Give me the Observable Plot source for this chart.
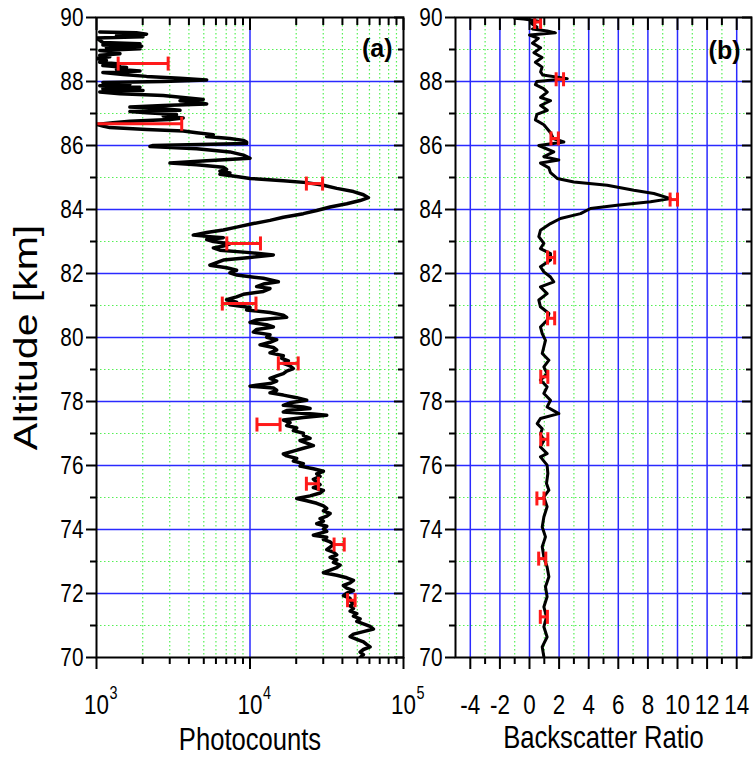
<!DOCTYPE html>
<html><head><meta charset="utf-8">
<script src="https://cdn.jsdelivr.net/npm/d3@7"></script>
<script src="https://cdn.jsdelivr.net/npm/@observablehq/plot@0.6"></script>
<style>
body{margin:0;background:#fff;}
#wrap{position:relative;width:753px;height:759px;overflow:hidden;background:#fff;}
#wrap svg{position:absolute;top:0;}
</style></head><body><div id="wrap"></div>
<script>
// ---------- Panel (a): photocount profile ----------
const altA = [89.55,89.52,89.48,89.44,89.40,89.36,89.22,89.18,89.14,89.10,89.06,89.02,88.97,88.92,88.87,88.82,88.77,88.72,88.66,88.60,88.55,88.50,88.44,88.38,88.33,88.28,88.22,88.16,88.10,88.05,88.00,87.97,87.92,87.87,87.82,87.77,87.72,87.67,87.62,87.56,87.50,87.44,87.40,87.35,87.30,87.25,87.20,87.15,87.10,87.06,87.02,86.97,86.92,86.86,86.81,86.76,86.71,86.66,86.61,86.56,86.50,86.45,86.40,86.34,86.28,86.22,86.16,86.11,86.06,86.00,85.97,85.90,85.80,85.70,85.60,85.52,85.45,85.40,85.32,85.25,85.20,85.14,85.10,85.03,84.97,84.90,84.84,84.76,84.66,84.56,84.46,84.37,84.28,84.18,84.08,83.97,83.87,83.76,83.66,83.56,83.45,83.36,83.28,83.20,83.16,83.12,83.06,83.00,82.93,82.86,82.80,82.73,82.66,82.58,82.50,82.42,82.34,82.26,82.18,82.10,82.02,
81.95,81.85,81.74,81.67,81.59,81.53,81.44,81.35,81.27,81.18,81.10,81.02,80.94,80.86,80.78,80.70,80.63,80.55,80.47,80.40,80.33,80.25,80.17,80.09,80.01,79.93,79.85,79.77,79.69,79.61,79.52,79.43,79.35,79.27,79.19,79.11,79.03,78.95,78.87,78.80,78.72,78.64,78.56,78.48,78.42,78.35,78.27,78.20,78.12,78.04,77.96,
77.88,77.83,77.78,77.72,77.67,77.61,77.57,77.50,77.42,77.34,77.25,77.17,77.09,77.01,76.94,76.85,76.78,76.70,76.62,76.54,76.45,76.36,76.30,76.22,76.14,76.06,75.98,75.90,75.82,75.74,75.66,75.57,75.48,75.40,75.31,75.22,75.14,75.05,74.97,74.90,74.82,74.74,74.66,74.58,74.50,74.42,74.34,74.26,74.18,74.10,74.02,73.94,
73.82,73.76,73.69,73.61,73.53,73.45,73.37,73.29,73.21,73.13,73.05,72.97,72.89,72.81,72.73,72.65,72.57,72.49,72.41,72.33,72.25,72.17,72.09,72.01,71.93,71.85,71.77,71.69,71.61,71.53,71.45,71.37,71.29,71.21,71.13,71.05,70.97,70.89,70.81,70.73,70.65,70.57,70.49,70.41,70.33,70.25,70.17,70.09,70.00];
const countsA = [1050,1820,2120,1350,2010,1000,1100,1920,1100,1970,1160,1920,1050,1350,1420,1050,1220,1000,1160,1050,1420,1100,1570,1350,1920,1100,1490,2120,3500,5220,2720,1100,1650,1050,1920,1100,2010,1050,1420,2720,3670,4960,3500,4490,5220,2720,1650,2720,3500,1650,2120,3320,2720,3670,3010,1650,1280,1000,1100,1220,2120,3670,4490,5770,5220,7400,9050,9510,9500,2340,2230,4490,7400,9050,10000,5220,3010,4490,6700,7040,6370,7400,6370,8180,10000,16490,23410,30080,36750,47200,54840,59100,52160,42700,33250,27210,22270,16490,13500,10510,8180,6700,5220,4270,5220,6700,5220,5770,7400,6700,5770,6370,9510,14200,10000,6700,6060,5480,7040,8180,7400,
8180,12220,15300,12220,11050,13500,12220,9050,8180,7040,8180,7400,10000,9510,13500,16490,17340,11050,10000,12840,14200,11050,10510,13500,12840,14920,13500,11620,14200,14920,13500,16490,16090,17780,16490,18230,19170,17340,16490,14920,13500,14920,13500,10000,14200,14920,13500,16490,20150,23410,18230,
16490,22270,24620,17340,16490,25880,31620,22270,16490,18230,17340,20150,19170,22270,22270,24620,21180,23410,25880,22270,19170,16490,17340,20150,19170,22270,21180,25880,30080,27210,28610,25880,27210,28610,25880,30080,28610,24620,20150,23410,27210,30080,31620,30080,33250,31620,28610,30080,27210,31620,30080,31620,
25880,31620,30080,33250,34950,33250,31620,34950,36750,33250,36750,34950,38640,36750,33250,30080,36750,42700,47200,44890,40620,42700,47200,42700,40620,44890,44890,47200,44890,47200,44890,49620,47200,52160,49620,54840,60610,63720,54840,47200,44890,49620,54840,57500,60610,54840,52160,54840,52160];
const errAltA = [88.56,86.68,84.81,82.94,81.06,79.19,77.28,75.43,73.53,71.79];
const errLoA  = [1384,900,23300,7060,6600,15300,11100,23300,35300,43200];
const errHiA  = [2930,3590,29700,11700,10940,20600,15700,27900,41100,48400];

// ---------- Panel (b): backscatter ratio ----------
const altB = [89.98,89.95,89.92,89.88,89.83,89.76,89.70,89.64,89.58,89.52,89.45,89.35,89.20,89.05,88.90,88.75,88.60,88.45,88.30,88.20,88.09,88.00,87.90,87.78,87.67,87.50,87.40,87.25,87.10,86.97,86.80,86.65,86.40,86.22,86.11,86.00,85.80,85.65,85.55,85.45,85.30,85.15,84.97,84.86,84.76,84.60,84.50,84.34,84.24,84.13,84.03,83.87,83.72,83.56,83.35,83.15,82.94,82.78,82.62,
82.42,82.21,82.05,81.89,81.74,81.58,81.37,81.17,80.96,80.75,80.54,80.33,80.12,79.91,79.71,79.50,79.29,79.08,78.87,78.67,78.46,78.25,78.04,77.83,77.62,77.47,77.31,77.15,76.98,76.79,76.58,76.37,76.27,76.01,75.75,75.44,75.23,75.02,74.71,74.39,74.08,73.77,73.46,73.14,72.83,72.52,72.21,71.90,71.58,71.27,70.96,70.64,70.33,70.02];
const ratioB = [-1.0,-0.4,0.1,0.6,0.1,0.3,0.5,0.2,1.2,1.75,0.0,0.6,0.2,0.75,0.3,0.85,0.4,0.85,0.75,0.9,2.55,0.5,0.4,0.95,1.2,0.75,1.42,0.75,1.2,0.5,0.4,0.97,1.42,1.6,2.32,0.63,1.64,0.97,1.98,0.74,1.31,1.42,1.87,3.0,5.25,7.05,8.4,9.53,8.18,5.92,4.12,3.45,2.09,1.42,0.74,0.63,0.97,0.74,1.42,
1.42,0.74,0.97,1.42,1.64,0.74,1.19,0.63,0.74,1.31,1.19,0.74,0.86,1.08,0.97,0.86,1.31,0.97,1.19,0.74,1.19,0.97,1.42,1.19,1.98,0.74,0.52,0.86,0.74,0.97,0.74,1.19,0.74,1.19,1.24,1.15,1.31,0.97,1.19,0.97,0.86,1.08,0.86,0.97,1.19,1.31,1.08,1.19,0.97,1.15,0.97,1.19,0.86,0.97];
const errAltB = [89.86,88.07,86.22,84.31,82.50,80.60,78.77,76.82,74.97,73.09,71.27];
const errLoB  = [0.35,1.80,1.45,9.50,1.22,1.22,0.76,0.76,0.50,0.62,0.73];
const errHiB  = [0.75,2.30,1.95,10.00,1.70,1.70,1.24,1.24,0.98,1.10,1.21];

// ---------- axes / grid values and labels ----------
const altTicks  = [70,72,74,76,78,80,82,84,86,88,90];
const altLabels = ["70","72","74","76","78","80","82","84","86","88","90"];
const altMinor  = [71,73,75,77,79,81,83,85,87,89];
const altBlue   = [72,74,76,78,80,82,84,86,88];
const xMajorA   = [1000,10000,100000];
const xBaseA    = ["10","10","10"];
const xExpA     = ["3","4","5"];
const xMinorA   = [2000,3000,4000,5000,6000,7000,8000,9000,20000,30000,40000,50000,60000,70000,80000,90000];
const xTicksB   = [-4,-2,0,2,4,6,8,10,12,14];
const xLabelsB  = ["-4","-2","0","2","4","6","8","10","12","14"];
const xMinorB   = [-3,-1,1,3,5,7,9,11,13];
const titleA = "Photocounts", titleB = "Backscatter Ratio", titleY = "Altitude [km]";
const panelA = "(a)", panelB = "(b)";

const FONT = "'Liberation Sans',Arial,sans-serif";
const SQUISH = 0.8;
const BLUE = "#2a2aff", GREEN = "#55f055", RED = "#ff1a1a";
const vbar = {draw(ctx){ ctx.moveTo(0,-7); ctx.lineTo(0,7); }};

const profA = altA.map((a,i)=>({alt:a, v:countsA[i]}));
const errA = errAltA.map((a,i)=>({alt:a, lo:errLoA[i], hi:errHiA[i]}));
const capsA = errA.flatMap(d=>[{alt:d.alt, v:d.lo},{alt:d.alt, v:d.hi}]);
const profB = altB.map((a,i)=>({alt:a, v:ratioB[i]}));
const errB = errAltB.map((a,i)=>({alt:a, lo:errLoB[i], hi:errHiB[i]}));
const capsB = errB.flatMap(d=>[{alt:d.alt, v:d.lo},{alt:d.alt, v:d.hi}]);
const labA = xMajorA.map((v,i)=>({v, b:xBaseA[i], e:xExpA[i]}));
const labB = xTicksB.map((v,i)=>({v, t:xLabelsB[i]}));
const altLab = altTicks.map((v,i)=>({v, t:altLabels[i]}));

const common = {height:759, marginTop:17, marginBottom:102,
  style:{fontFamily:FONT, background:"none", color:"black", overflow:"visible"}};
const blank = () => "";
const dots = {stroke:GREEN, strokeWidth:1.2, strokeDasharray:"1.5,2.5"};

function yAxes(){
  return [
    Plot.axisY(altTicks, {anchor:"left", tickSize:10, strokeWidth:2, label:null, tickFormat:blank}),
    Plot.axisY(altMinor, {anchor:"left", tickSize:6, strokeWidth:2, label:null, tickFormat:blank}),
    Plot.axisY(altTicks, {anchor:"right", tickSize:-10, strokeWidth:2, label:null, tickFormat:blank}),
    Plot.axisY(altMinor, {anchor:"right", tickSize:-6, strokeWidth:2, label:null, tickFormat:blank}),
    Plot.text(altLab, {y:"v", text:"t", frameAnchor:"left", textAnchor:"end", lineAnchor:"middle", dx:-13, fontSize:26})
  ];
}

const left = Plot.plot({
  ...common, width:420, marginLeft:96, marginRight:17,
  x:{type:"log", domain:[1e3,1e5], axis:null},
  y:{domain:[70,90], axis:null},
  marks:[
    Plot.ruleY(altMinor, dots),
    Plot.ruleX(xMinorA, dots),
    Plot.ruleY(altBlue, {stroke:BLUE, strokeWidth:1.5}),
    Plot.ruleX([10000], {stroke:BLUE, strokeWidth:1.5}),
    Plot.line(profA, {x:"v", y:"alt", stroke:"black", strokeWidth:3.5, clip:true}),
    Plot.link(errA, {x1:"lo", x2:"hi", y1:"alt", y2:"alt", stroke:RED, strokeWidth:3, clip:true}),
    Plot.dot(capsA, {x:"v", y:"alt", symbol:vbar, stroke:RED, strokeWidth:3, fill:"none", clip:true}),
    Plot.frame({stroke:"black", strokeWidth:2}),
    ...yAxes(),
    Plot.axisX(xMajorA, {anchor:"bottom", tickSize:12, strokeWidth:2, label:null, tickFormat:blank}),
    Plot.axisX(xMinorA, {anchor:"bottom", tickSize:7, strokeWidth:2, label:null, tickFormat:blank}),
    Plot.axisX(xMajorA, {anchor:"top", tickSize:-12, strokeWidth:2, label:null, tickFormat:blank}),
    Plot.axisX(xMinorA, {anchor:"top", tickSize:-7, strokeWidth:2, label:null, tickFormat:blank}),
    Plot.text(labA, {x:"v", text:"b", frameAnchor:"bottom", textAnchor:"middle", lineAnchor:"middle", dy:48, fontSize:28}),
    Plot.text(labA, {x:"v", text:"e", frameAnchor:"bottom", textAnchor:"start", lineAnchor:"middle", dy:36, dx:13, fontSize:18}),
    Plot.text([titleA], {frameAnchor:"bottom", lineAnchor:"middle", dy:82, fontSize:32}),
    Plot.text([titleY], {frameAnchor:"left", textAnchor:"middle", lineAnchor:"middle", dx:-70, rotate:-90, fontSize:41}),
    Plot.text([panelA], {frameAnchor:"top-right", textAnchor:"end", lineAnchor:"middle", dx:-11, dy:31, fontSize:25, fontWeight:"bold"})
  ]
});

const right = Plot.plot({
  ...common, width:333, marginLeft:35, marginRight:2,
  x:{domain:[-5,15], axis:null},
  y:{domain:[70,90], axis:null},
  marks:[
    Plot.ruleY(altMinor, dots),
    Plot.ruleX(xMinorB, dots),
    Plot.ruleY(altBlue, {stroke:BLUE, strokeWidth:1.5}),
    Plot.ruleX(xTicksB, {stroke:BLUE, strokeWidth:1.5}),
    Plot.line(profB, {x:"v", y:"alt", stroke:"black", strokeWidth:3, clip:true}),
    Plot.link(errB, {x1:"lo", x2:"hi", y1:"alt", y2:"alt", stroke:RED, strokeWidth:3, clip:true}),
    Plot.dot(capsB, {x:"v", y:"alt", symbol:vbar, stroke:RED, strokeWidth:3, fill:"none", clip:true}),
    Plot.frame({stroke:"black", strokeWidth:2}),
    ...yAxes(),
    Plot.axisX(xTicksB, {anchor:"bottom", tickSize:12, strokeWidth:2, label:null, tickFormat:blank}),
    Plot.axisX(xMinorB, {anchor:"bottom", tickSize:7, strokeWidth:2, label:null, tickFormat:blank}),
    Plot.axisX(xTicksB, {anchor:"top", tickSize:-12, strokeWidth:2, label:null, tickFormat:blank}),
    Plot.axisX(xMinorB, {anchor:"top", tickSize:-7, strokeWidth:2, label:null, tickFormat:blank}),
    Plot.text(labB, {x:"v", text:"t", frameAnchor:"bottom", textAnchor:"middle", lineAnchor:"middle", dy:48, fontSize:28}),
    Plot.text([titleB], {frameAnchor:"bottom", lineAnchor:"middle", dy:80, fontSize:32}),
    Plot.text([panelB], {frameAnchor:"top-right", textAnchor:"end", lineAnchor:"middle", dx:-11, dy:33, fontSize:25, fontWeight:"bold"})
  ]
});

// horizontally condense the lettering (the reference uses a narrow face)
for (const svg of [left, right]) {
  svg.querySelectorAll("text").forEach(t => {
    const s = t.textContent;
    if (s === panelA || s === panelB || s === "") return;
    const tr = t.getAttribute("transform") || "";
    if (tr.includes("rotate")) t.setAttribute("transform", tr.replace(/\s*rotate/, ` scale(${SQUISH},1) rotate`));
    else t.setAttribute("transform", `${tr} scale(${SQUISH},1)`);
  });
}

const wrap = document.getElementById("wrap");
left.style.left = "0px";
right.style.left = "420px";
wrap.appendChild(left);
wrap.appendChild(right);
</script>
</body></html>
